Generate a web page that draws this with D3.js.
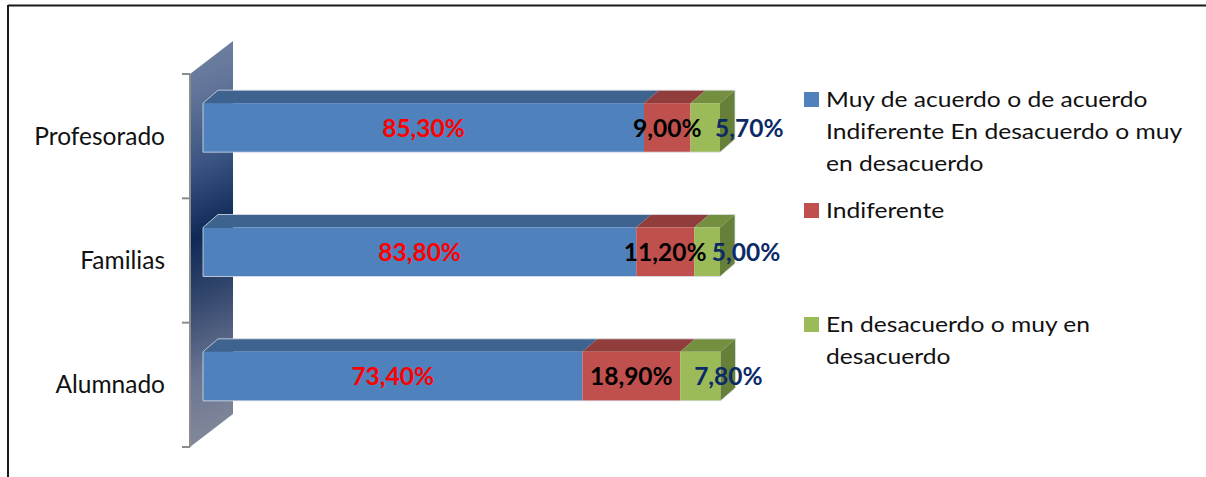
<!DOCTYPE html>
<html>
<head>
<meta charset="utf-8">
<script src="https://cdn.jsdelivr.net/npm/d3@7"></script>
<style>
  body { margin: 0; background: #fff; overflow: hidden; }
  svg { display: block; }
</style>
</head>
<body>
<svg id="chart" width="1206" height="477"></svg>
<script>
// Survey results by group (percent of respondents)
const categories = ["Profesorado", "Familias", "Alumnado"];
const acuerdo = [85.3, 83.8, 73.4];
const indiferente = [9.0, 11.2, 18.9];
const desacuerdo = [5.7, 5.0, 7.8];
const seriesNames = [
  "Muy de acuerdo o de acuerdo Indiferente En desacuerdo o muy en desacuerdo",
  "Indiferente",
  "En desacuerdo o muy en desacuerdo"
];

// Colours: front face, top face, label colour
const frontColors = ["#4F81BD", "#C0504D", "#9BBB59"];
const topColors = ["#3E638F", "#913D3B", "#738F3F"];
const sideColor = "#66803A";
const labelColors = ["#FF0000", "#000000", "#0B2A66"];
// extra horizontal nudge for the last segment's labels
const lastLabelShift = [44, 39, 28];

const FONT = "Lato, 'Open Sans', sans-serif";
const svg = d3.select("#chart");

const esLocale = d3.formatLocale({ decimal: ",", thousands: ".", grouping: [3], currency: ["", " €"] });
const fmt = v => esLocale.format(".2f")(v) + "%";

// frame lines
svg.append("line").attr("x1", 8).attr("x2", 1206).attr("y1", 5.5).attr("y2", 5.5)
  .attr("stroke", "#1a1a1a").attr("stroke-width", 2);
svg.append("line").attr("x1", 8).attr("x2", 8).attr("y1", 5).attr("y2", 477)
  .attr("stroke", "#1a1a1a").attr("stroke-width", 2);

// scales
const x = d3.scaleLinear().domain([0, 100]).range([203, 720]);
const y = d3.scaleBand().domain(categories).range([74, 447]).padding(0);

const wallX0 = 190, wallDx = 43, wallDy = -33;
const depth = { dx: 15, dy: -13 };
const barH = 49;
const barLift = 8.5;

// back wall gradient
const defs = svg.append("defs");
const grad = defs.append("linearGradient").attr("id", "wallGrad")
  .attr("gradientUnits", "userSpaceOnUse")
  .attr("x1", 140).attr("y1", 60).attr("x2", 300).attr("y2", 440);
[[0, "#7283a2"], [0.12, "#63769a"], [0.3, "#385280"], [0.45, "#0f2956"],
 [0.6, "#36496f"], [0.76, "#6a7591"], [1, "#8f939f"]]
  .forEach(([o, c]) => grad.append("stop").attr("offset", o).attr("stop-color", c));

const yTop = y.range()[0], yBot = y.range()[1];
svg.append("path")
  .attr("d", `M${wallX0},${yTop} L${wallX0 + wallDx},${yTop + wallDy} L${wallX0 + wallDx},${yBot + wallDy} L${wallX0},${yBot} Z`)
  .attr("fill", "url(#wallGrad)");

// category axis line and ticks
svg.append("line").attr("x1", wallX0).attr("x2", wallX0).attr("y1", yTop).attr("y2", yBot)
  .attr("stroke", "#8c8c8c").attr("stroke-width", 2);
const tickVals = categories.map(c => y(c)).concat([yBot]);
svg.selectAll("line.tick").data(tickVals).join("line").attr("class", "tick")
  .attr("x1", wallX0 - 8).attr("x2", wallX0).attr("y1", d => d).attr("y2", d => d)
  .attr("stroke", "#8c8c8c").attr("stroke-width", 2);

// category labels
svg.selectAll("text.cat").data(categories).join("text").attr("class", "cat")
  .attr("x", 165).attr("y", d => y(d) + y.bandwidth() / 2 + 8.5)
  .attr("text-anchor", "end")
  .attr("font-family", FONT).attr("font-size", 24.5).attr("fill", "#111")
  .text(d => d);

// stacked 3D bars
const series = [acuerdo, indiferente, desacuerdo];
const rows = categories.map((c, i) => {
  let acc = 0;
  return series.map((s, k) => {
    const seg = { cat: c, i, k, v: s[i], x0: acc, x1: acc + s[i] };
    acc += s[i];
    return seg;
  });
});

const gBars = svg.append("g");
rows.forEach(segs => {
  segs.forEach(seg => {
    const top = y(seg.cat) + y.bandwidth() / 2 - barLift - barH / 2;
    const xa = x(seg.x0), xb = x(seg.x1);
    // top face
    gBars.append("path")
      .attr("d", `M${xa},${top} L${xa + depth.dx},${top + depth.dy} L${xb + depth.dx},${top + depth.dy} L${xb},${top} Z`)
      .attr("fill", topColors[seg.k]);
    // front face
    gBars.append("rect")
      .attr("x", xa).attr("y", top).attr("width", xb - xa).attr("height", barH)
      .attr("fill", frontColors[seg.k]);
    if (seg.k === series.length - 1) {
      gBars.append("path")
        .attr("d", `M${xb},${top} L${xb + depth.dx},${top + depth.dy} L${xb + depth.dx},${top + depth.dy + barH} L${xb},${top + barH} Z`)
        .attr("fill", sideColor);
    }
  });
  // faint light outline of the whole bar
  const first = segs[0], last = segs[segs.length - 1];
  const top = y(first.cat) + y.bandwidth() / 2 - barLift - barH / 2;
  const xa = x(first.x0), xb = x(last.x1);
  gBars.append("path")
    .attr("d", `M${xa},${top + barH} L${xa},${top} L${xa + depth.dx},${top + depth.dy} L${xb + depth.dx},${top + depth.dy} L${xb + depth.dx},${top + depth.dy + barH} L${xb},${top + barH} Z`)
    .attr("fill", "none").attr("stroke", "#d9dfe8").attr("stroke-width", 1).attr("stroke-opacity", 0.8);
});

// value labels
const labels = rows.flat();
svg.selectAll("text.val").data(labels).join("text").attr("class", "val")
  .attr("x", d => (x(d.x0) + x(d.x1)) / 2 + (d.k === series.length - 1 ? lastLabelShift[d.i] : 0))
  .attr("y", d => y(d.cat) + y.bandwidth() / 2 - barLift + 9)
  .attr("text-anchor", "middle")
  .attr("font-family", FONT).attr("font-weight", 700).attr("font-size", 24.5)
  .attr("fill", d => labelColors[d.k])
  .text(d => fmt(d.v));

// legend (text slightly widened horizontally)
const legendX = 804, legendTextX = 826, legendLineH = 32, legendStretch = 1.12;
const legendWrap = 372 / legendStretch;
const legendBaselines = [107, 218, 332];
const gLeg = svg.append("g");
seriesNames.forEach((name, k) => {
  const by = legendBaselines[k];
  gLeg.append("rect").attr("x", legendX).attr("y", by - 15).attr("width", 15).attr("height", 15)
    .attr("fill", frontColors[k]);
  const t = gLeg.append("text")
    .attr("transform", `translate(${legendTextX},${by}) scale(${legendStretch},1)`)
    .attr("font-family", FONT).attr("font-size", 22).attr("fill", "#111");
  const words = name.split(" ");
  let line = [], lineNo = 0;
  let ts = t.append("tspan").attr("x", 0).attr("y", 0);
  words.forEach(w => {
    line.push(w);
    ts.text(line.join(" "));
    if (ts.node().getComputedTextLength() > legendWrap && line.length > 1) {
      line.pop();
      ts.text(line.join(" "));
      line = [w];
      lineNo++;
      ts = t.append("tspan").attr("x", 0).attr("y", lineNo * legendLineH).text(w);
    }
  });
});
</script>
</body>
</html>
